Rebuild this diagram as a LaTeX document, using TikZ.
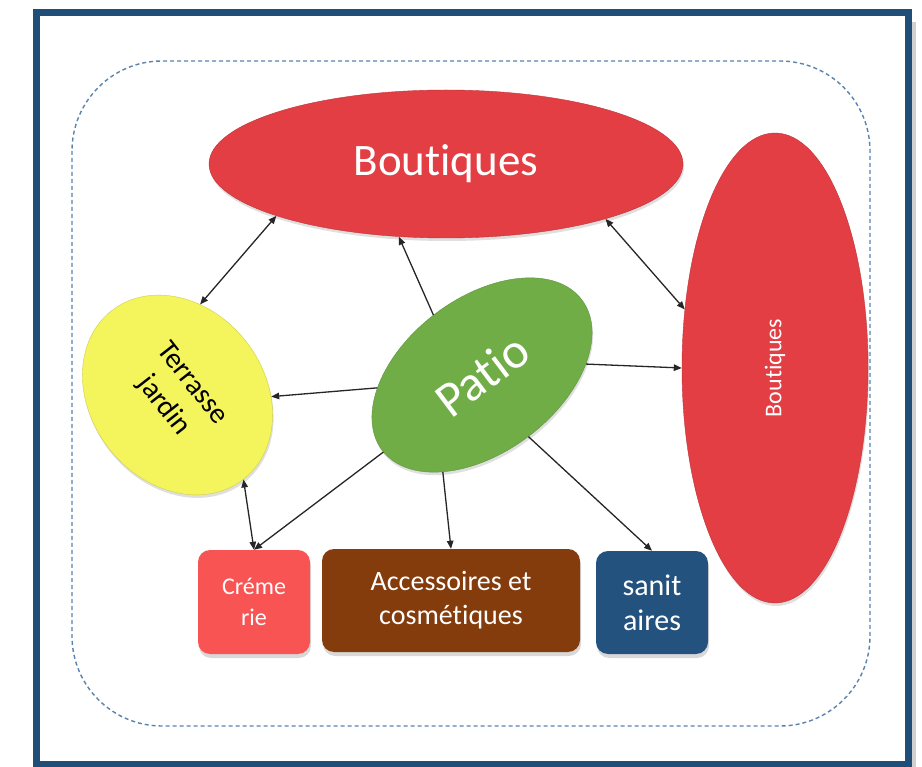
\documentclass[tikz,border=0pt]{standalone}
\usepackage{fontspec}
\setmainfont{Carlito}[Ligatures={NoCommon,NoContextual}]
\usetikzlibrary{shapes.geometric,arrows.meta,shadows}
\definecolor{frameblue}{HTML}{1F4E79}
\definecolor{dashblue}{HTML}{5A84AE}
\definecolor{bred}{HTML}{E23E44}
\definecolor{pgreen}{HTML}{70AD47}
\definecolor{tyellow}{HTML}{F4F45C}
\definecolor{cred}{HTML}{F95454}
\definecolor{abrown}{HTML}{843C0C}
\definecolor{snavy}{HTML}{24527F}
\begin{document}
\begin{tikzpicture}[x=1pt,y=1pt,
  conn/.style={line width=1.3pt, draw=black!85},
  tp/.tip={Triangle[length=8pt,width=6.5pt]},
  oval/.style={ellipse, inner sep=0pt, text=white,
    drop shadow={shadow xshift=1pt, shadow yshift=-3pt, opacity=0.25}},
  box/.style={rectangle, rounded corners=12pt, inner sep=0pt, text=white, align=center,
    drop shadow={shadow xshift=1pt, shadow yshift=-4pt, opacity=0.3}}
]
\useasboundingbox (0,0) rectangle (922,-767);
\fill[white] (0,0) rectangle (922,-767);
% frame
\draw[line width=4pt, black!18] (914,-22) -- (914,-767);
\draw[frameblue, line width=7pt] (36,-12.5) rectangle (908,-764);
% dashed outline
\draw[dashblue, line width=1.4pt, dash pattern=on 4pt off 3pt, rounded corners=90pt]
  (72,-61) rectangle (870,-726);
% nodes
\node[oval, fill=bred, draw=bred!85!black, line width=0.4pt, minimum width=474pt, minimum height=148pt,
  font=\fontsize{45}{50}\selectfont] (bt) at (446,-164) {Boutiques};
\node[oval, fill=bred, draw=bred!85!black, line width=0.4pt, rotate=90, minimum width=470pt, minimum height=186pt,
  font=\fontsize{24}{28}\selectfont] (br) at (775,-368) {Boutiques};
\node[oval, fill=pgreen, draw=pgreen!85!black, line width=0.4pt, rotate=37, minimum width=250pt, minimum height=154pt,
  font=\fontsize{50}{54}\selectfont] (patio) at (482,-375) {Patio};
\node[oval, fill=tyellow, draw=tyellow!85!black, line width=0.4pt, rotate=-52, minimum width=214pt, minimum height=174pt,
  text=black, align=center, font=\fontsize{29}{36}\selectfont] (tj) at (177.5,-395) {Terrasse\\jardin};
\node[box, fill=cred, minimum width=112pt, minimum height=104pt,
  font=\fontsize{24}{31}\selectfont] (crem) at (254,-602) {Créme\\rie};
\node[box, fill=abrown, minimum width=258pt, minimum height=103pt,
  font=\fontsize{28}{34}\selectfont] (acc) at (451,-600.5) {Accessoires et\\cosmétiques};
\node[box, fill=snavy, minimum width=112pt, minimum height=103pt,
  font=\fontsize{30}{35}\selectfont] (san) at (652,-602.5) {sanit\\aires};
% connectors
\draw[conn, {tp}-{tp}] (bt.197.9) -- (tj.128.7);
\draw[conn, -{tp}] (patio.92) -- (bt.237.9);
\draw[conn, {tp}-{tp}] (bt.341.7) -- (br.57.2);
\draw[conn, -{tp}] (patio.329.6) -- (br.90);
\draw[conn, -{tp}] (patio.150.8) -- (tj.51.4);
\draw[conn, {tp}-{tp}] (tj.0) -- (crem.north);
\draw[conn, -{tp}] (patio.181) -- (crem.north);
\draw[conn, -{tp}] (patio.211) -- (acc.north);
\draw[conn, -{tp}] (patio.270) -- (san.north);
\end{tikzpicture}
\end{document}
